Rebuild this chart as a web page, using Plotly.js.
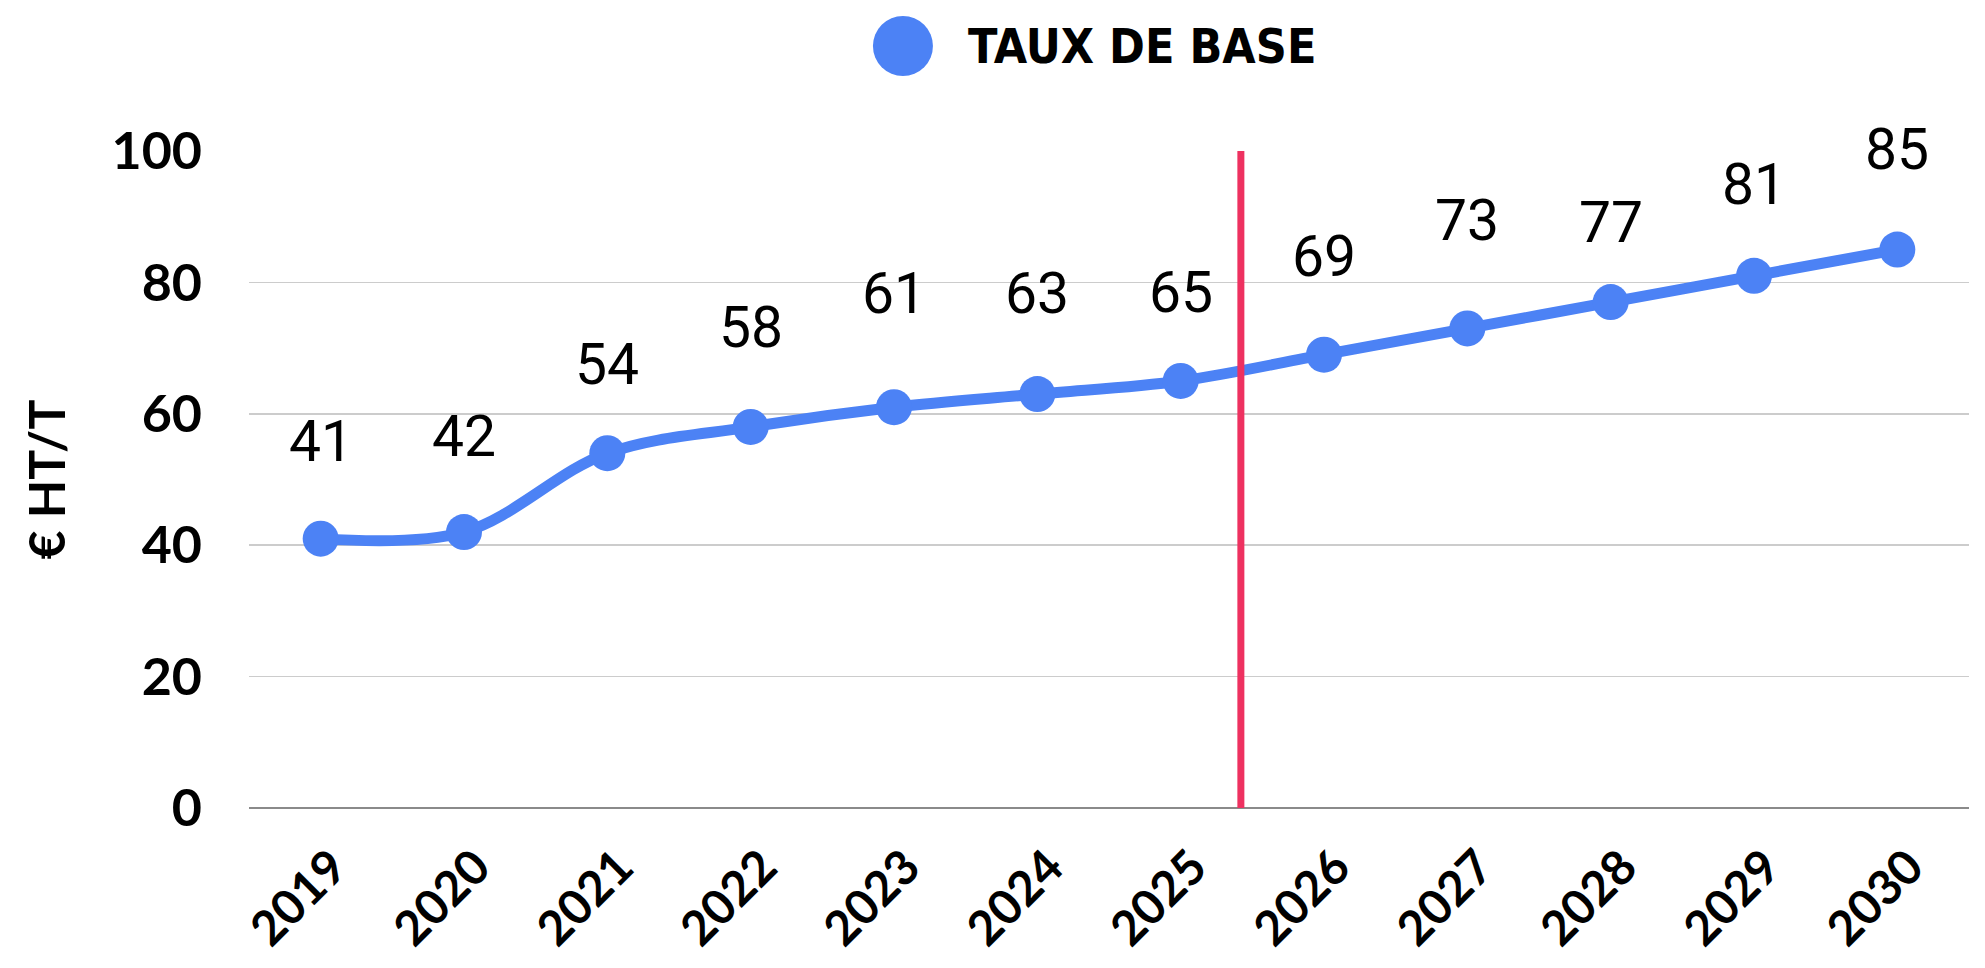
<!DOCTYPE html>
<html>
<head>
<meta charset="utf-8">
<script src="https://cdn.plot.ly/plotly-3.0.1.min.js"></script>
<style>
html,body{margin:0;padding:0;background:#fff;}
#chart{width:1985px;height:968px;}
</style>
</head>
<body>
<div id="chart"></div>
<script>
const years = ['2019','2020','2021','2022','2023','2024','2025','2026','2027','2028','2029','2030'];
const values = [41,42,54,58,61,63,65,69,73,77,81,85];
const seriesName = 'TAUX DE BASE';
const yTitle = '€ HT/T';
const yTicks = [0,20,40,60,80,100];

// pixel offsets of each value label above its point (style, as placed in the reference)
const labelOffsets = [97,96,89,99,114,101,88,98,108,80,91,100];

const blue = '#4C82F5';
const red = '#EE3160';

const trace = {
  x: years,
  y: values,
  type: 'scatter',
  mode: 'lines+markers',
  name: seriesName,
  line: {color: blue, width: 11, shape: 'spline', smoothing: 1},
  marker: {color: blue, size: 36},
  showlegend: false,
  cliponaxis: false,
  hoverinfo: 'x+y'
};

// category annotations: use serial index of each category
const labelAnnotations = years.map((yr, i) => ({
  x: i, y: values[i], xref: 'x', yref: 'y',
  text: String(values[i]), showarrow: false,
  yanchor: 'middle', yshift: labelOffsets[i],
  font: {family: 'Roboto, Arial, sans-serif', size: 57, color: '#000'}
}));

const layout = {
  width: 1985, height: 968,
  margin: {l: 249, r: 16, t: 151, b: 160},
  paper_bgcolor: '#fff', plot_bgcolor: '#fff',
  showlegend: false,
  xaxis: {
    type: 'category',
    range: [-0.5, 11.5],
    tickangle: -45,
    tickfont: {family: 'Lato, sans-serif', size: 48, color: '#000', weight: 'bold'},
    showgrid: false, zeroline: false, showline: false,
    ticks: '', ticklabelstandoff: 20, ticklabelshift: 12,
    automargin: false, fixedrange: true
  },
  yaxis: {
    range: [0, 100],
    tickvals: yTicks,
    tickfont: {family: 'Lato, sans-serif', size: 52, color: '#000', weight: 'bold'},
    showgrid: true, gridcolor: '#cccccc', gridwidth: 1.5,
    zeroline: true, zerolinecolor: '#8a8a8a', zerolinewidth: 2.5,
    showline: false, ticks: '', ticklabelstandoff: 46,
    title: {text: yTitle, font: {family: 'Lato, sans-serif', size: 50, color: '#000', weight: 'bold'}, standoff: 30},
    automargin: false, fixedrange: true
  },
  shapes: [
    {type: 'line', xref: 'x', yref: 'y', x0: 6.42, x1: 6.42, y0: -14.8, y1: 100,
     line: {color: red, width: 7}, layer: 'above'},
    {type: 'circle', xref: 'paper', yref: 'paper', xsizemode: 'pixel', ysizemode: 'pixel',
     xanchor: 0.3802, yanchor: 1.1598, x0: -30, x1: 30, y0: -30, y1: 30,
     fillcolor: blue, line: {width: 0}}
  ],
  annotations: labelAnnotations.concat([
    {xref: 'paper', yref: 'paper', x: 0.4169, y: 1.1598, xanchor: 'left', yanchor: 'middle',
     text: seriesName, showarrow: false,
     font: {family: '"Liberation Sans Narrow", "DejaVu Sans Condensed", sans-serif', size: 48, color: '#000', weight: 'bold'}}
  ])
};

Plotly.newPlot('chart', [trace], layout, {displayModeBar: false, staticPlot: true});
</script>
</body>
</html>
